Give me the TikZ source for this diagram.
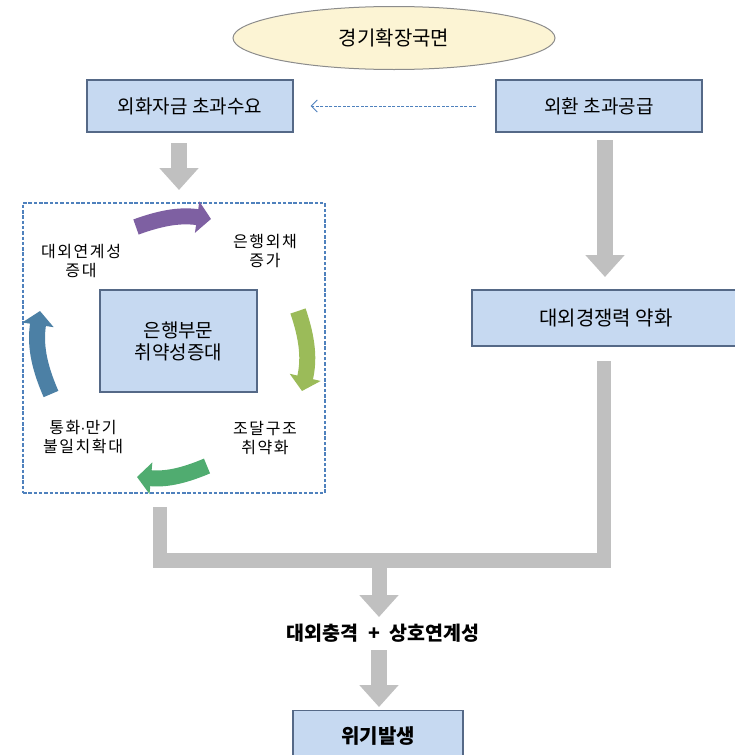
\documentclass[tikz,border=0pt]{standalone}
\usepackage{fontspec}
\setmainfont{Noto Sans CJK KR}
\newfontfamily\lblfont[LetterSpace=10]{Noto Sans CJK KR}
\newfontfamily\dotfont{Liberation Sans}
\usetikzlibrary{arrows.meta,shapes.geometric,positioning}
\definecolor{boxfill}{RGB}{198,217,241}
\definecolor{boxline}{RGB}{85,105,135}
\definecolor{ellfill}{RGB}{252,244,212}
\definecolor{ellline}{RGB}{140,140,140}
\definecolor{dashblue}{RGB}{79,129,189}
\definecolor{grayarr}{RGB}{192,192,192}
\definecolor{cpurple}{RGB}{126,96,162}
\definecolor{cyellowgreen}{RGB}{155,187,89}
\definecolor{cgreen}{RGB}{80,172,112}
\definecolor{cblue}{RGB}{76,128,165}
\tikzset{
  bluebox/.style={draw=boxline, line width=1.1pt, fill=boxfill, rectangle, inner sep=0pt, align=center},
  ovalnode/.style={ellipse, draw=ellline, line width=1pt, fill=ellfill, inner sep=0pt, minimum width=322pt, minimum height=63pt},
  groupbox/.style={draw=dashblue, line width=1.7pt, dash pattern=on 3.5pt off 1.8pt, rectangle, inner sep=0pt, minimum width=302pt, minimum height=290pt},
  cyclelabel/.style={align=center, inner sep=0pt, font=\lblfont\fontsize{16pt}{19.5pt}\selectfont},
  grayarrow/.style={draw=grayarr, line width=16pt, -{Triangle[width=38pt,length=22pt]}},
  graybar/.style={draw=grayarr, line width=14.5pt, line cap=butt, line join=miter},
  curarr/.style={line width=16pt, -{Triangle[width=31pt,length=14pt]}},
  dasharrow/.style={draw=dashblue, line width=1pt, dash pattern=on 3pt off 1.5pt, -{Straight Barb[length=6pt,width=12pt,line width=1pt]}}
}
\begin{document}
\begin{tikzpicture}[x=1pt,y=-1pt]
\useasboundingbox (0,0) rectangle (735,755);
\clip (0,0) rectangle (735,755);
\fill[white] (0,0) rectangle (735,755);

% top ellipse
\node[ovalnode, font=\fontsize{20pt}{23pt}\selectfont] (phase) at (394,38) {경기확장국면};

% top boxes
\node[bluebox, minimum width=206pt, minimum height=52pt, font=\fontsize{19pt}{22pt}\selectfont] (b1) at (190,106) {외화자금~초과수요};
\node[bluebox, minimum width=206pt, minimum height=52pt, font=\fontsize{19pt}{22pt}\selectfont] (b2) at (599,106) {외환~초과공급};
\draw[dasharrow, shorten <=19pt, shorten >=17pt] (b2.west) -- (b1.east);

% group with cycle
\node[groupbox] (grp) at (174,348) {};
\node[bluebox, minimum width=157pt, minimum height=102pt, font=\fontsize{19pt}{22pt}\selectfont] (core) at (178.5,341) {은행부문\\취약성증대};
\node[cyclelabel] (l1) at (81,261) {대외연계성\\증대};
\node[cyclelabel] (l2) at (265,251) {은행외채\\증가};
\node[cyclelabel] (l3) at (265,438) {조달구조\\취약화};
\node[cyclelabel] (l4) at (83,437) {통화{\dotfont ·}만기\\불일치확대};

\coordinate (p1s) at (136,227);
\coordinate (p1e) at (211,219);
\coordinate (p2s) at (298,311);
\coordinate (p2e) at (302,391);
\coordinate (p3s) at (207,466);
\coordinate (p3e) at (137,477);
\coordinate (p4s) at (51,394);
\coordinate (p4e) at (40,311);
\draw[curarr, draw=cpurple] (p1s) to[bend left=14] (p1e);
\draw[curarr, draw=cyellowgreen] (p2s) to[bend left=16] (p2e);
\draw[curarr, draw=cgreen] (p3s) to[bend left=14] (p3e);
\draw[curarr, draw=cblue] (p4s) to[bend left=16] (p4e);

% right branch
\node[bluebox, minimum width=268pt, minimum height=56pt, font=\fontsize{20pt}{23pt}\selectfont] (b3) at (606,318) {대외경쟁력~약화};

\coordinate (g1s) at (179,143);
\coordinate (g1e) at (179,190);
\draw[grayarrow] (g1s) -- (g1e);
\coordinate (g2s) at (605,140);
\coordinate (g2e) at (605,277);
\draw[grayarrow] (g2s) -- (g2e);

% joining bracket
\coordinate (bl) at (160,507);
\coordinate (br) at (604,361);
\coordinate (jm) at (379,560.5);
\draw[graybar] (bl) |- (jm) -| (br);

% bottom
\node[inner sep=0pt, font=\bfseries\fontsize{19.5pt}{22pt}\selectfont] (shock) at (383,633) {대외충격\hspace{10pt}+\hspace{10pt}상호연계성};
\coordinate (g3e) at (379,617);
\draw[grayarrow, line width=15pt] (jm) -- (g3e);
\node[bluebox, minimum width=170pt, minimum height=50pt, anchor=north, font=\bfseries\fontsize{20pt}{23pt}\selectfont] (crisis) at (378,710) {위기발생};
\coordinate (g4s) at (379,650);
\coordinate (g4e) at (379,707);
\draw[grayarrow] (g4s) -- (g4e);
\end{tikzpicture}
\end{document}
